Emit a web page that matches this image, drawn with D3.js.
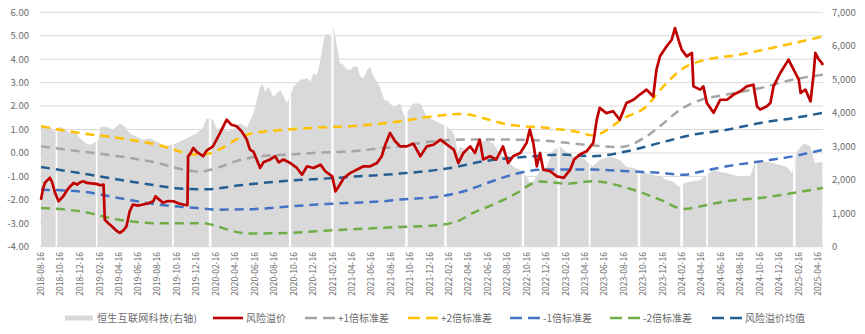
<!DOCTYPE html>
<html>
<head>
<meta charset="utf-8">
<script src="https://cdn.jsdelivr.net/npm/d3@7"></script>
<style>
  body { margin: 0; background: #fff; }
  svg { display: block; }
  text { font-family: "Noto Sans CJK SC", "Noto Sans", sans-serif; fill: #6a6a6a; }
</style>
</head>
<body>
<svg id="chart" width="865" height="334"></svg>
<script>
// Hang Seng Internet & IT index (right axis)
const indexSeries = [
  ["2018-08-16",3630],["2018-08-28",3600],["2018-09-13",3580],["2018-09-25",3450],["2018-10-15",3580],
  ["2018-10-31",3500],["2018-11-16",3390],["2018-11-26",3480],["2018-12-16",3240],["2019-01-02",3100],
  ["2019-01-17",3040],["2019-02-12",3190],["2019-02-18",3580],["2019-03-11",3580],["2019-03-29",3490],
  ["2019-04-20",3680],["2019-05-06",3580],["2019-05-21",3390],["2019-06-11",3290],["2019-07-02",3190],
  ["2019-07-23",3240],["2019-08-13",3140],["2019-09-14",2990],["2019-09-28",3050],["2019-10-15",3090],
  ["2019-11-16",3240],["2019-12-17",3390],["2020-01-07",3580],["2020-01-17",3830],["2020-02-07",3780],
  ["2020-02-19",3485],["2020-03-06",3583],["2020-03-20",3450],["2020-04-09",3500],["2020-05-01",3684],
  ["2020-05-22",3550],["2020-06-12",3983],["2020-07-03",4780],["2020-07-10",4880],["2020-07-18",4628],
  ["2020-07-29",4778],["2020-08-13",4479],["2020-08-24",4580],["2020-09-04",4679],["2020-09-25",4281],
  ["2020-10-15",4780],["2020-11-06",4980],["2020-11-27",5030],["2020-12-07",4927],["2020-12-17",5180],
  ["2020-12-28",5127],["2021-01-08",5580],["2021-01-18",6170],["2021-01-23",6320],["2021-02-03",6370],
  ["2021-02-08",6270],["2021-02-18",6570],["2021-03-01",5970],["2021-03-10",5480],["2021-03-22",5425],
  ["2021-03-31",5300],["2021-04-12",5276],["2021-04-21",5380],["2021-05-03",5375],["2021-05-13",5080],
  ["2021-05-23",5028],["2021-06-03",5280],["2021-06-13",5375],["2021-06-23",5080],["2021-07-04",4927],
  ["2021-07-13",4780],["2021-07-27",4380],["2021-08-03",4380],["2021-08-24",4180],["2021-09-15",4280],
  ["2021-09-28",3882],["2021-10-12",4100],["2021-10-26",4280],["2021-11-17",4280],["2021-12-07",3880],
  ["2021-12-28",3780],["2022-01-19",3680],["2022-02-09",3580],["2022-03-02",3390],["2022-03-15",2800],
  ["2022-03-21",2990],["2022-04-12",2890],["2022-05-02",2790],["2022-05-22",3090],["2022-06-12",3190],
  ["2022-07-03",3090],["2022-07-24",2790],["2022-08-15",2590],["2022-09-04",2390],["2022-09-26",2290],
  ["2022-10-16",2090],["2022-10-31",1850],["2022-11-06",1950],["2022-11-28",2290],["2022-12-18",2390],
  ["2023-01-08",2890],["2023-01-30",2990],["2023-02-20",2790],["2023-03-11",2700],["2023-04-01",2720],
  ["2023-04-22",2550],["2023-05-11",2400],["2023-06-02",2590],["2023-07-04",2690],["2023-08-04",2590],
  ["2023-08-25",2390],["2023-09-16",2350],["2023-10-28",2190],["2023-11-17",2140],["2023-12-08",2090],
  ["2023-12-29",2000],["2024-01-19",1940],["2024-02-05",1790],["2024-02-20",1890],["2024-03-13",1950],
  ["2024-04-12",1990],["2024-05-23",2290],["2024-06-14",2240],["2024-07-05",2190],["2024-07-25",2140],
  ["2024-08-16",2090],["2024-09-16",2090],["2024-09-26",2400],["2024-09-30",2590],["2024-10-10",2590],
  ["2024-11-28",2490],["2025-01-09",2390],["2025-01-24",2190],["2025-02-10",2850],["2025-03-03",3090],
  ["2025-03-24",2990],["2025-04-07",2490],["2025-04-30",2540]
];

// Days with no index quote (mainland holidays)
const indexClosures = [
  ["2018-10-01","2018-10-05"],["2019-02-04","2019-02-08"],["2019-10-01","2019-10-05"],
  ["2020-01-24","2020-01-31"],["2020-10-01","2020-10-07"],["2021-02-11","2021-02-17"],
  ["2021-10-01","2021-10-07"],["2022-01-31","2022-02-06"],["2022-10-01","2022-10-07"],
  ["2023-01-21","2023-01-27"],["2023-04-29","2023-05-03"],["2023-09-29","2023-10-06"],
  ["2024-02-10","2024-02-17"],["2024-05-01","2024-05-05"],["2024-10-01","2024-10-07"],
  ["2025-01-28","2025-02-04"]
];

// Risk premium (left axis)
const premiumSeries = [
  ["2018-08-16",-2.00],["2018-08-22",-1.55],["2018-08-28",-1.28],["2018-09-06",-1.15],["2018-09-13",-1.06],
  ["2018-09-20",-1.25],["2018-09-29",-1.70],["2018-10-10",-2.06],["2018-10-18",-1.95],["2018-10-25",-1.85],
  ["2018-11-05",-1.60],["2018-11-16",-1.42],["2018-11-26",-1.28],["2018-12-07",-1.35],["2018-12-17",-1.25],
  ["2018-12-27",-1.21],["2019-01-07",-1.28],["2019-01-20",-1.30],["2019-02-05",-1.32],["2019-02-18",-1.38],
  ["2019-02-28",-1.35],["2019-03-04",-2.85],["2019-03-15",-3.00],["2019-03-26",-3.13],["2019-04-08",-3.30],
  ["2019-04-20",-3.41],["2019-05-01",-3.30],["2019-05-11",-3.13],["2019-05-21",-2.49],["2019-05-31",-2.20],
  ["2019-06-15",-2.25],["2019-07-02",-2.20],["2019-07-18",-2.15],["2019-08-03",-2.06],["2019-08-10",-1.85],
  ["2019-08-18",-1.95],["2019-09-03",-2.13],["2019-09-18",-2.05],["2019-10-05",-2.06],["2019-10-20",-2.15],
  ["2019-11-05",-2.20],["2019-11-18",-2.23],["2019-11-20",-0.14],["2019-11-26",-0.05],["2019-12-06",0.21],
  ["2019-12-17",0.05],["2020-01-06",-0.14],["2020-01-17",0.10],["2020-02-06",0.28],["2020-02-28",0.85],
  ["2020-03-20",1.42],["2020-04-04",1.20],["2020-04-20",1.14],["2020-05-06",0.92],["2020-05-22",0.57],
  ["2020-06-01",0.14],["2020-06-12",0.05],["2020-06-22",-0.28],["2020-07-03",-0.64],["2020-07-13",-0.40],
  ["2020-08-03",-0.28],["2020-08-19",-0.14],["2020-08-30",-0.40],["2020-09-14",-0.28],["2020-10-05",-0.43],
  ["2020-10-26",-0.64],["2020-11-11",-0.93],["2020-11-27",-0.57],["2020-12-17",-0.64],["2021-01-08",-0.50],
  ["2021-01-23",-0.78],["2021-02-14",-1.00],["2021-02-24",-1.64],["2021-03-06",-1.43],["2021-03-22",-1.07],
  ["2021-04-12",-0.85],["2021-05-03",-0.71],["2021-05-23",-0.57],["2021-06-13",-0.57],["2021-07-04",-0.43],
  ["2021-07-19",-0.14],["2021-07-30",0.35],["2021-08-14",0.85],["2021-08-30",0.50],["2021-09-15",0.28],
  ["2021-10-05",0.28],["2021-10-26",0.40],["2021-11-17",-0.14],["2021-12-07",0.28],["2021-12-28",0.35],
  ["2022-01-19",0.57],["2022-02-09",0.35],["2022-03-02",0.14],["2022-03-16",-0.43],["2022-04-01",0.00],
  ["2022-04-22",0.28],["2022-05-07",0.00],["2022-05-22",0.57],["2022-06-02",-0.28],["2022-06-23",-0.14],
  ["2022-07-13",-0.28],["2022-08-03",0.28],["2022-08-19",-0.43],["2022-09-04",-0.14],["2022-09-26",0.00],
  ["2022-10-16",0.43],["2022-10-26",1.00],["2022-11-06",0.43],["2022-11-17",-0.57],["2022-11-27",0.00],
  ["2022-12-07",-0.71],["2022-12-29",-0.78],["2023-01-19",-1.00],["2023-02-09",-1.06],["2023-03-02",-0.71],
  ["2023-03-14",-0.28],["2023-04-01",-0.07],["2023-04-22",0.07],["2023-05-13",0.43],["2023-05-24",1.42],
  ["2023-06-02",1.92],["2023-06-23",1.70],["2023-07-14",1.78],["2023-08-04",1.42],["2023-08-25",2.13],
  ["2023-09-16",2.27],["2023-10-06",2.49],["2023-10-27",2.70],["2023-11-17",2.41],["2023-11-27",3.55],
  ["2023-12-08",4.12],["2023-12-29",4.55],["2024-01-14",4.83],["2024-01-24",5.33],["2024-02-04",4.83],
  ["2024-02-14",4.41],["2024-03-01",4.12],["2024-03-17",4.27],["2024-03-22",2.84],["2024-04-12",2.70],
  ["2024-04-22",2.84],["2024-05-03",2.13],["2024-05-24",1.71],["2024-06-14",2.27],["2024-07-05",2.27],
  ["2024-07-26",2.49],["2024-08-16",2.63],["2024-09-05",2.84],["2024-09-26",2.91],["2024-10-07",1.99],
  ["2024-10-17",1.85],["2024-11-07",1.99],["2024-11-18",2.13],["2024-11-28",2.84],["2024-12-19",3.41],
  ["2025-01-14",3.98],["2025-01-30",3.55],["2025-02-15",3.13],["2025-02-21",2.56],["2025-03-08",2.70],
  ["2025-03-24",2.20],["2025-04-03",3.41],["2025-04-08",4.27],["2025-04-18",4.00],["2025-04-28",3.84],
  ["2025-05-02",3.75]
];

const plus1Sd = [
  ["2018-08-16",0.28],["2018-12-16",0.07],["2019-04-16",-0.14],["2019-08-16",-0.43],["2019-11-05",-0.71],
  ["2019-12-27",-0.80],["2020-02-19",-0.64],["2020-04-16",-0.36],["2020-07-03",-0.14],["2020-10-05",-0.07],
  ["2020-12-16",0.00],["2021-04-16",0.07],["2021-07-24",0.21],["2021-09-15",0.28],["2021-12-16",0.48],
  ["2022-04-16",0.57],["2022-08-16",0.57],["2022-12-16",0.52],["2023-02-20",0.43],["2023-05-12",0.32],
  ["2023-08-04",0.25],["2023-10-27",0.71],["2023-12-08",1.14],["2024-02-10",1.85],["2024-04-16",2.27],
  ["2024-07-04",2.49],["2024-10-18",2.77],["2025-01-29",3.13],["2025-05-02",3.34]
];

const plus2Sd = [
  ["2018-08-16",1.14],["2018-12-16",0.85],["2019-04-16",0.64],["2019-08-16",0.35],["2019-12-16",-0.07],
  ["2020-01-28",-0.02],["2020-02-29",0.17],["2020-04-16",0.55],["2020-06-02",0.82],["2020-08-16",0.95],
  ["2020-12-16",1.07],["2021-04-16",1.14],["2021-08-16",1.30],["2021-12-16",1.54],["2022-03-12",1.66],
  ["2022-04-16",1.64],["2022-06-01",1.49],["2022-08-16",1.22],["2022-12-16",1.07],["2023-03-22",0.90],
  ["2023-05-12",0.75],["2023-06-02",0.82],["2023-08-16",1.48],["2023-10-27",1.99],["2023-12-16",2.80],
  ["2024-03-01",3.70],["2024-04-16",3.93],["2024-08-16",4.20],["2024-12-16",4.55],["2025-04-16",4.92],
  ["2025-05-02",4.97]
];

const minus1Sd = [
  ["2018-08-16",-1.57],["2018-12-16",-1.64],["2019-04-16",-1.92],["2019-08-16",-2.20],["2019-12-18",-2.35],
  ["2020-02-19",-2.42],["2020-06-02",-2.40],["2020-10-05",-2.28],["2020-12-28",-2.20],["2021-04-11",-2.13],
  ["2021-07-24",-2.06],["2021-09-15",-1.99],["2022-01-19",-1.85],["2022-04-11",-1.60],["2022-06-01",-1.35],
  ["2022-08-15",-1.00],["2022-10-17",-0.78],["2022-12-13",-0.71],["2023-05-12",-0.71],["2023-08-26",-0.78],
  ["2023-12-08",-0.85],["2024-02-20",-0.93],["2024-04-12",-0.80],["2024-07-05",-0.57],["2024-10-18",-0.36],
  ["2025-01-29",-0.14],["2025-05-02",0.14]
];

const minus2Sd = [
  ["2018-08-16",-2.35],["2018-12-16",-2.49],["2019-04-16",-2.85],["2019-08-16",-3.00],["2020-01-06",-3.00],
  ["2020-02-19",-3.13],["2020-04-09",-3.34],["2020-06-02",-3.44],["2020-10-05",-3.41],["2020-12-28",-3.34],
  ["2021-04-11",-3.26],["2021-09-15",-3.16],["2021-12-27",-3.10],["2022-03-12",-2.92],["2022-05-01",-2.56],
  ["2022-07-03",-2.20],["2022-09-16",-1.71],["2022-11-07",-1.28],["2022-11-28",-1.22],["2023-02-20",-1.31],
  ["2023-05-12",-1.21],["2023-08-26",-1.49],["2023-12-08",-1.99],["2024-02-20",-2.39],["2024-04-12",-2.28],
  ["2024-07-05",-2.06],["2024-10-18",-1.92],["2025-01-29",-1.71],["2025-05-02",-1.49]
];

const premiumMean = [
  ["2018-08-16",-0.60],["2019-01-17",-0.93],["2019-06-22",-1.28],["2019-11-26",-1.54],["2020-01-17",-1.55],
  ["2020-05-01",-1.38],["2020-10-05",-1.18],["2021-02-18",-1.07],["2021-04-11",-1.02],["2021-09-15",-0.88],
  ["2022-02-20",-0.64],["2022-06-01",-0.36],["2022-11-07",-0.14],["2023-01-30",-0.07],["2023-05-12",-0.14],
  ["2023-08-26",0.07],["2023-12-08",0.43],["2024-03-21",0.78],["2024-07-05",0.99],["2024-10-18",1.28],
  ["2025-01-29",1.49],["2025-05-02",1.71]
];

const leftTicks = [6, 5, 4, 3, 2, 1, 0, -1, -2, -3, -4];
const rightTicks = [7000, 6000, 5000, 4000, 3000, 2000, 1000, 0];
const dateLabelStart = "2018-08-16";
const dateLabelCount = 41;   // one label every two months

const legendItems = [
  { label: "恒生互联网科技(右轴)", kind: "area", color: "#d9d9d9" },
  { label: "风险溢价", kind: "solid", color: "#c00000" },
  { label: "+1倍标准差", kind: "dash", color: "#a5a5a5" },
  { label: "+2倍标准差", kind: "dash", color: "#ffc000" },
  { label: "-1倍标准差", kind: "dash", color: "#4472c4" },
  { label: "-2倍标准差", kind: "dash", color: "#70ad47" },
  { label: "风险溢价均值", kind: "dash", color: "#255e91" }
];

// ---------------------------------------------------------------
const parse = d3.timeParse("%Y-%m-%d");
const svg = d3.select("#chart");

const plot = { left: 40, right: 823, top: 12.3, bottom: 246.7 };
const x = d3.scaleTime()
  .domain([parse("2018-08-16"), parse("2025-05-02")])
  .range([41, 823]);
const yL = d3.scaleLinear().domain([-4, 6]).range([plot.bottom, plot.top]);
const yR = d3.scaleLinear().domain([0, 7000]).range([plot.bottom, plot.top]);

const toPts = arr => arr.map(([d, v]) => ({ date: parse(d), value: v }));

// gridlines
svg.append("g").selectAll("line").data(leftTicks).join("line")
  .attr("x1", plot.left).attr("x2", plot.right)
  .attr("y1", d => yL(d)).attr("y2", d => yL(d))
  .attr("stroke", "#d9d9d9").attr("stroke-width", 1);

// index area
const indexPts = toPts(indexSeries);
const areaGen = d3.area()
  .x(d => x(d.date)).y0(yR(0)).y1(d => yR(d.value));
const areaD = areaGen(indexPts);
svg.append("clipPath").attr("id", "indexClip").append("path").attr("d", areaD);
svg.append("path").attr("d", areaD).attr("fill", "#d9d9d9");

// closure days leave blank slivers in the area
svg.append("g").attr("clip-path", "url(#indexClip)")
  .selectAll("rect").data(indexClosures).join("rect")
  .attr("x", d => x(parse(d[0])))
  .attr("width", d => Math.max(1.2, x(d3.timeDay.offset(parse(d[1]), 1)) - x(parse(d[0]))))
  .attr("y", plot.top).attr("height", plot.bottom - plot.top)
  .attr("fill", "#ffffff");

// dashed band lines
const bandLine = d3.line().x(d => x(d.date)).y(d => yL(d.value)).curve(d3.curveMonotoneX);
const bands = [
  { data: minus2Sd, color: "#70ad47" },
  { data: minus1Sd, color: "#4472c4" },
  { data: premiumMean, color: "#255e91" },
  { data: plus1Sd, color: "#a5a5a5" },
  { data: plus2Sd, color: "#ffc000" }
];
bands.forEach(b => {
  svg.append("path").attr("d", bandLine(toPts(b.data)))
    .attr("fill", "none").attr("stroke", b.color)
    .attr("stroke-width", 2.5).attr("stroke-dasharray", "9,6");
});

// risk premium line
const premLine = d3.line().x(d => x(d.date)).y(d => yL(d.value));
svg.append("path").attr("d", premLine(toPts(premiumSeries)))
  .attr("fill", "none").attr("stroke", "#c00000")
  .attr("stroke-width", 2.7).attr("stroke-linejoin", "round");

// left axis labels
svg.append("g").selectAll("text").data(leftTicks).join("text")
  .attr("x", 29).attr("y", d => yL(d)).attr("dy", "0.35em")
  .attr("text-anchor", "end").attr("font-size", "9.5px")
  .text(d => d.toFixed(2));

// right axis labels
svg.append("g").selectAll("text").data(rightTicks).join("text")
  .attr("x", 832).attr("y", d => yR(d)).attr("dy", "0.35em")
  .attr("text-anchor", "start").attr("font-size", "9.5px")
  .text(d => d3.format(",")(d));

// date labels
const start = parse(dateLabelStart);
const dateTicks = d3.range(dateLabelCount).map(i => d3.timeMonth.offset(start, 2 * i));
const fmt = d3.timeFormat("%Y-%m-%d");
svg.append("g").selectAll("text").data(dateTicks).join("text")
  .attr("transform", d => `translate(${x(d)},252) rotate(-90)`)
  .attr("dy", "0.35em").attr("text-anchor", "end").attr("font-size", "8.5px")
  .text(d => fmt(d));

// legend
const legendX = [65, 213, 305, 408, 510, 610, 712];
const legendTextW = [100, 42, 51, 51, 50, 51, 62];
const ly = 318;
const lg = svg.append("g");
legendItems.forEach((it, i) => {
  const x0 = legendX[i];
  if (it.kind === "area") {
    lg.append("rect").attr("x", x0).attr("y", ly - 2.5).attr("width", 28).attr("height", 5).attr("fill", it.color);
  } else {
    lg.append("line").attr("x1", x0).attr("x2", x0 + 30).attr("y1", ly).attr("y2", ly)
      .attr("stroke", it.color).attr("stroke-width", 2.6)
      .attr("stroke-dasharray", it.kind === "dash" ? "12,6" : null);
  }
  const t = lg.append("text").attr("x", x0 + (it.kind === "area" ? 32 : 33)).attr("y", ly).attr("dy", "0.35em")
    .attr("font-size", "10px").text(it.label);
  const w = t.node().getComputedTextLength();
  if (Math.abs(w - legendTextW[i]) > 2) {
    t.attr("textLength", legendTextW[i]).attr("lengthAdjust", w > legendTextW[i] ? "spacingAndGlyphs" : "spacing");
  }
});
</script>
</body>
</html>
